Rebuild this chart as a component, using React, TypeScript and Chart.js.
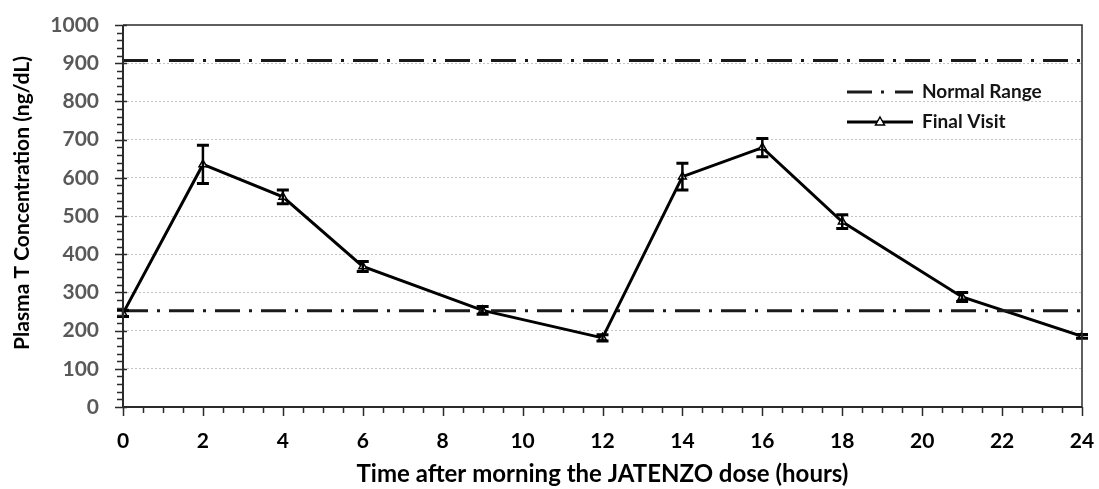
import { useEffect, useRef } from "react";
import { Chart, registerables } from "chart.js";

Chart.register(...registerables);

// Sampling times (hours after the morning dose)
const hours = [0, 2, 4, 6, 9, 12, 14, 16, 18, 21, 24];
// Mean plasma testosterone at the final visit (ng/dL)
const meanT = [245, 635, 550, 368, 253, 181, 603, 679, 485, 288, 185];
// Standard error of the mean (ng/dL)
const semT = [8, 50, 18, 13, 10, 8, 35, 24, 18, 12, 5];
// Normal testosterone range (ng/dL)
const normalLow = 252;
const normalHigh = 907;

const yTitle = "Plasma T Concentration (ng/dL)";
const xTitle = "Time after morning the JATENZO dose (hours)";
const legendLabels = ["Normal Range", "Final Visit"];

const FONT = "Lato, 'Open Sans', sans-serif";
const AXIS_COLOR = "#2b2b2b";
const RANGE_DASH = [25, 9, 3, 9];

const errorBars = {
  id: "errorBars",
  afterDatasetsDraw(chart: any) {
    const meta = chart.getDatasetMeta(2);
    const y = chart.scales.y;
    const ctx = chart.ctx;
    ctx.save();
    ctx.strokeStyle = "#000";
    meta.data.forEach((pt: any, i: number) => {
      const x = pt.x;
      const top = y.getPixelForValue(meanT[i] + semT[i]);
      const bot = y.getPixelForValue(meanT[i] - semT[i]);
      ctx.lineWidth = 2.5;
      ctx.beginPath();
      ctx.moveTo(x, top);
      ctx.lineTo(x, bot);
      ctx.stroke();
      ctx.lineWidth = 3;
      ctx.beginPath();
      ctx.moveTo(x - 6, top);
      ctx.lineTo(x + 6, top);
      ctx.moveTo(x - 6, bot);
      ctx.lineTo(x + 6, bot);
      ctx.stroke();
    });
    ctx.restore();
  },
};

const frameAndTicks = {
  id: "frameAndTicks",
  afterDraw(chart: any) {
    const { ctx, chartArea: a, scales } = chart;
    const xs = scales.x;
    const ys = scales.y;
    ctx.save();
    ctx.strokeStyle = AXIS_COLOR;
    // top and right border
    ctx.lineWidth = 1.5;
    ctx.beginPath();
    ctx.moveTo(a.left, a.top);
    ctx.lineTo(a.right, a.top);
    ctx.lineTo(a.right, a.bottom);
    ctx.stroke();
    // axis lines
    ctx.lineWidth = 2;
    ctx.beginPath();
    ctx.moveTo(a.left, a.top);
    ctx.lineTo(a.left, a.bottom);
    ctx.lineTo(a.right, a.bottom);
    ctx.stroke();
    // y ticks: minor every 20, major every 100
    ctx.lineWidth = 1.5;
    ctx.beginPath();
    for (let v = 0; v <= 1000; v += 20) {
      const py = Math.round(ys.getPixelForValue(v)) + 0.5;
      const major = v % 100 === 0;
      ctx.moveTo(a.left - (major ? 8 : 6), py);
      ctx.lineTo(a.left + (major ? 4 : 0), py);
    }
    ctx.stroke();
    // x ticks: minor every 0.5 h, major every 2 h
    ctx.beginPath();
    for (let h = 0; h <= 24; h += 0.5) {
      const px = Math.round(xs.getPixelForValue(h)) + 0.5;
      const major = h % 2 === 0;
      ctx.moveTo(px, a.bottom);
      ctx.lineTo(px, a.bottom + (major ? 9 : 6));
    }
    ctx.stroke();

    // y axis title
    ctx.fillStyle = "#000";
    ctx.font = `bold 21px ${FONT}`;
    ctx.textAlign = "center";
    ctx.textBaseline = "middle";
    ctx.translate(22, 203);
    ctx.rotate(-Math.PI / 2);
    ctx.fillText(yTitle, 0, 0);
    ctx.restore();

    // legend
    ctx.save();
    const lx = 847;
    const lw = 66;
    const ly1 = 92;
    const ly2 = 122;
    ctx.strokeStyle = "#1a1a1a";
    ctx.lineWidth = 3;
    ctx.setLineDash([25, 9, 3, 11]);
    ctx.beginPath();
    ctx.moveTo(lx, ly1);
    ctx.lineTo(lx + lw, ly1);
    ctx.stroke();
    ctx.setLineDash([]);
    ctx.strokeStyle = "#000";
    ctx.lineWidth = 3;
    ctx.beginPath();
    ctx.moveTo(lx, ly2);
    ctx.lineTo(lx + lw, ly2);
    ctx.stroke();
    // triangle marker
    const tx = lx + 33;
    ctx.lineWidth = 1.5;
    ctx.fillStyle = "#fff";
    ctx.beginPath();
    ctx.moveTo(tx, ly2 - 5);
    ctx.lineTo(tx + 4.5, ly2 + 3);
    ctx.lineTo(tx - 4.5, ly2 + 3);
    ctx.closePath();
    ctx.fill();
    ctx.stroke();
    ctx.fillStyle = "#141414";
    ctx.font = `bold 19px ${FONT}`;
    ctx.textAlign = "left";
    ctx.textBaseline = "middle";
    ctx.fillText(legendLabels[0], lx + 75, ly1);
    ctx.fillText(legendLabels[1], lx + 75, ly2);
    ctx.restore();
  },
};

// keep the plot box exactly where the layout padding puts it
const noScalePadding = (s: any) => {
  s.paddingLeft = 0;
  s.paddingRight = 0;
  s.paddingTop = 0;
  s.paddingBottom = 0;
};

export default function App() {
  const ref = useRef<HTMLCanvasElement | null>(null);

  useEffect(() => {
    if (!ref.current) return;
    const tickFont = { family: FONT, size: 21, weight: "bold" as const };
    const chart = new Chart(ref.current, {
      type: "line",
      data: {
        datasets: [
          {
            label: legendLabels[0],
            data: [
              { x: 0, y: normalHigh },
              { x: 24, y: normalHigh },
            ],
            borderColor: "#1a1a1a",
            borderWidth: 3,
            borderDash: RANGE_DASH,
            pointRadius: 0,
          },
          {
            label: legendLabels[0],
            data: [
              { x: 0, y: normalLow },
              { x: 24, y: normalLow },
            ],
            borderColor: "#1a1a1a",
            borderWidth: 3,
            borderDash: RANGE_DASH,
            pointRadius: 0,
          },
          {
            label: legendLabels[1],
            data: hours.map((h, i) => ({ x: h, y: meanT[i] })),
            borderColor: "#000",
            borderWidth: 3,
            tension: 0,
            pointStyle: "triangle",
            pointRadius: 4.5,
            pointBackgroundColor: "#fff",
            pointBorderColor: "#000",
            pointBorderWidth: 1.5,
          },
        ],
      },
      options: {
        responsive: false,
        maintainAspectRatio: false,
        animation: false,
        layout: { padding: { left: 0, top: 25, right: 17, bottom: 0 } },
        plugins: {
          legend: { display: false },
          tooltip: { enabled: false },
        },
        scales: {
          x: {
            type: "linear",
            min: 0,
            max: 24,
            ticks: {
              stepSize: 2,
              color: "#000",
              font: tickFont,
              padding: 22,
              callback: (v: any) => String(v),
            },
            grid: { display: false, drawTicks: false },
            border: { display: false },
            title: {
              display: true,
              text: xTitle,
              color: "#000",
              font: { family: FONT, size: 24, weight: "bold" },
              padding: { top: 0, bottom: 0 },
            },
            afterFit: (s: any) => {
              s.height = 82;
              noScalePadding(s);
            },
          },
          y: {
            type: "linear",
            min: 0,
            max: 1000,
            ticks: {
              stepSize: 100,
              color: "#595959",
              font: tickFont,
              padding: 24,
              callback: (v: any) => String(v),
            },
            grid: {
              drawTicks: false,
              lineWidth: 1,
              color: (c: any) =>
                c.tick && (c.tick.value === 0 || c.tick.value === 1000)
                  ? "rgba(0,0,0,0)"
                  : "#c4c4c4",
            },
            border: { display: false, dash: [2, 2] },
            afterFit: (s: any) => {
              s.width = 123;
              noScalePadding(s);
            },
          },
        },
      },
      plugins: [errorBars, frameAndTicks],
    });
    return () => chart.destroy();
  }, []);

  return (
    <div style={{ position: "fixed", left: 0, top: 0, width: 1099, height: 489, background: "#fff" }}>
      <canvas ref={ref} width={1099} height={489} />
    </div>
  );
}
